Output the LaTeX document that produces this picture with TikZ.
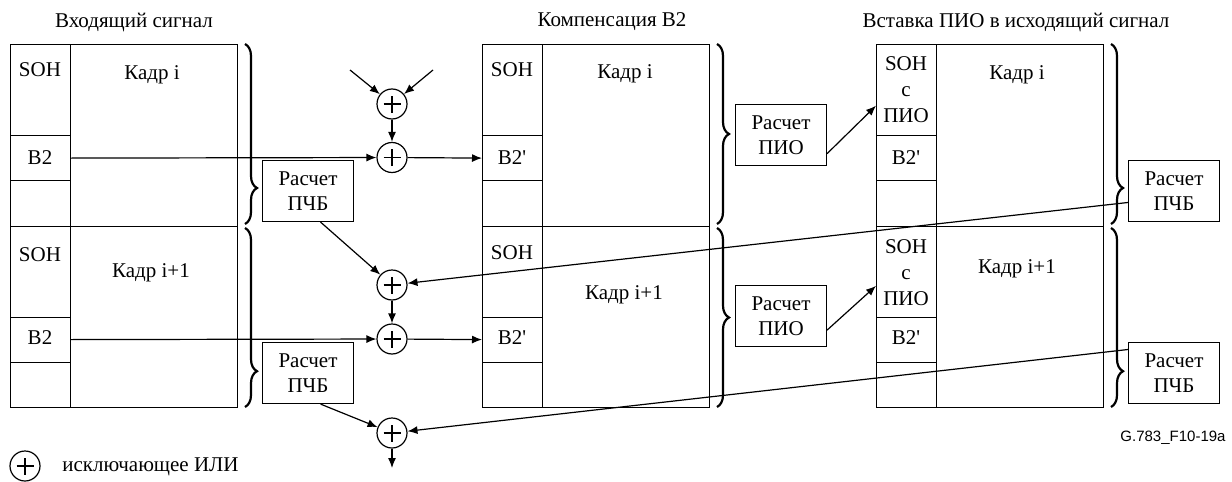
\documentclass[tikz,border=0pt]{standalone}
\usepackage{fontspec}
\setmainfont{Liberation Serif}
\newfontfamily\figsans{Liberation Sans}
\usetikzlibrary{arrows.meta,decorations.pathreplacing}

\begin{document}
\begin{tikzpicture}[x=0.5pt,y=-0.5pt,line width=0.6pt,
    every node/.style={font=\fontsize{10.5}{13}\selectfont},
    cell/.style={draw,inner sep=0pt,anchor=north west},
    calc/.style={draw,align=center,minimum width=45.5pt,minimum height=30.5pt,inner sep=0pt,
      font=\fontsize{10.5}{12.5}\selectfont},
    xor/.style={draw,circle,minimum size=15pt,inner sep=0pt,
      path picture={\draw (path picture bounding box.center) +(-4.25pt,0) -- +(4.25pt,0)
        +(0,-4.25pt) -- +(0,4.25pt);}},
    brc/.style={decorate,decoration={brace,amplitude=6pt,aspect=#1},line width=1.1pt},
    >={Latex[length=5pt,width=4pt]}]
  \useasboundingbox (0,0) rectangle (1232,482);
  % titles
  \node at (134,22) {Входящий сигнал};
  \node at (612,22) {Компенсация B2};
  \node at (1016,22) {Вставка ПИО в исходящий сигнал};
  % frames i and i+1
  \foreach \fx/\fn in {10/a,482/b,876/c}
    \foreach \fy/\k in {44/1,225.5/2} {
      \node[cell,minimum width=30pt,minimum height=45.5pt] (\fn\k soh) at (\fx,\fy) {};
      \node[cell,minimum width=30pt,minimum height=22.5pt] (\fn\k b2) at (\fx,\fy+91) {};
      \node[cell,minimum width=30pt,minimum height=22.75pt] (\fn\k e) at (\fx,\fy+136) {};
      \node[cell,minimum width=83.5pt,minimum height=90.75pt] (\fn\k pay) at (\fx+60,\fy) {};
    }
  \node at (40,70) {SOH}; \node at (152,75) {Кадр i}; \node at (40,158) {B2};
  \node at (40,255) {SOH}; \node at (151,273) {Кадр i+1}; \node at (40,338) {B2};
  \node at (512,70) {SOH}; \node at (625,74) {Кадр i}; \node at (512,158) {B2\textquotesingle};
  \node at (512,253) {SOH}; \node at (624,295) {Кадр i+1}; \node at (512,338) {B2\textquotesingle};
  \node[align=center] at (906,90) {SOH\\с\\ПИО}; \node at (1017,75) {Кадр i};
  \node at (906,158) {B2\textquotesingle};
  \node[align=center] at (906,273) {SOH\\с\\ПИО}; \node at (1017,269) {Кадр i+1};
  \node at (906,338) {B2\textquotesingle};
  % braces
  \foreach \bx/\asp in {245/0.8,717/0.5,1111/0.8} {
    \draw[brc=\asp] (\bx,44) -- (\bx,224);
    \draw[brc=\asp] (\bx,228) -- (\bx,407);
  }
  % calculation blocks
  \node[calc] (p1) at (308,191) {Расчет\\ПЧБ};
  \node[calc] (p2) at (308,373) {Расчет\\ПЧБ};
  \node[calc] (q1) at (1174,191) {Расчет\\ПЧБ};
  \node[calc] (q2) at (1174,373) {Расчет\\ПЧБ};
  \node[calc] (r1) at (781,135) {Расчет\\ПИО};
  \node[calc] (r2) at (781,316) {Расчет\\ПИО};
  % exclusive or
  \node[xor] (x1) at (392,104) {};
  \node[xor] (x2) at (392,157.5) {};
  \node[xor] (x3) at (392,285) {};
  \node[xor] (x4) at (392,339) {};
  \node[xor] (x5) at (392,433) {};
  \coordinate (in1) at (350,70);
  \coordinate (in2) at (433,70);
  \coordinate (out) at (392,468);
  \draw[->] (in1) -- (x1);
  \draw[->] (in2) -- (x1);
  \draw[->] (x1) -- (x2);
  \draw[->] (a1b2.east) -- (x2);
  \draw[->] (x2) -- (b1b2.west);
  \draw[->] (p1.-68) -- (x3);
  \draw[->] (q1.194) -- (x3);
  \draw[->] (x3) -- (x4);
  \draw[->] (a2b2.east) -- (x4);
  \draw[->] (x4) -- (b2b2.west);
  \draw[->] (p2.-68) -- (x5);
  \draw[->] (q2.153) -- (x5);
  \draw[->] (x5) -- (out);
  \draw[->] (r1.-22) -- (c1soh.207);
  \draw[->] (r2.-17) -- (c2soh.205);
  % legend
  \node[xor] (leg) at (25,466) {};
  \node[anchor=west] at (55,467) {исключающее ИЛИ};
  \node[font=\figsans\fontsize{7.5}{9}\selectfont] at (1173,438) {G.783\_F10-19a};
\end{tikzpicture}
\end{document}
